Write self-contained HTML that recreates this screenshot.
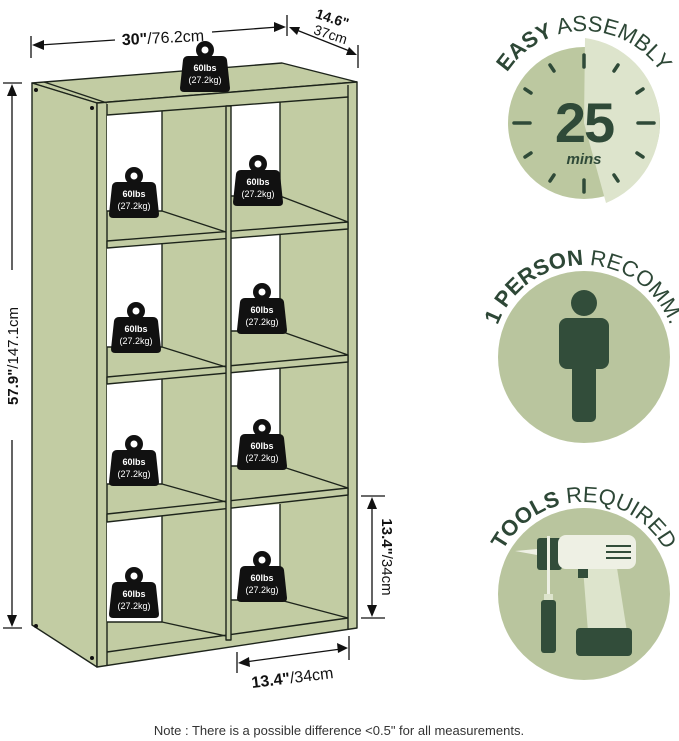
<!DOCTYPE html>
<html><head><meta charset="utf-8"><style>
html,body{margin:0;padding:0;background:#fff;}
svg{display:block;font-family:"Liberation Sans",sans-serif;}
</style></head><body>
<svg width="679" height="741" viewBox="0 0 679 741" xmlns="http://www.w3.org/2000/svg">
<defs>
<g id="wt">
 <circle cx="0" cy="-20" r="9" fill="#111"/>
 <circle cx="0" cy="-20" r="3.5" fill="#fff"/>
 <path d="M-17,-14 L17,-14 Q21,-14 22,-10 L25,18 Q25,22 21,22 L-21,22 Q-25,22 -25,18 L-22,-10 Q-21,-14 -17,-14 Z" fill="#111"/>
 <text x="0" y="1" font-size="9" font-weight="bold" fill="#fff" text-anchor="middle">60lbs</text>
 <text x="0" y="13" font-size="9" fill="#fff" text-anchor="middle">(27.2kg)</text>
</g>
</defs>
<g stroke="#1d241b" stroke-width="1.4" stroke-linejoin="round">
 <polygon points="32,83 282,63 357,82 97,103" fill="#c2cca3"/>
 <polygon points="32,83 97,103 97,667 32,625" fill="#c2cca3"/>
 <polygon points="97,103 357,82 357,628 97,667" fill="#c2cca3"/>
 <line x1="107" y1="104" x2="107" y2="665" />
 <line x1="348" y1="85" x2="348" y2="630" />
 <g fill="#fff" stroke="none">
  <polygon points="107,115 162,111 162,211 107,211"/>
  <polygon points="231,106 280,102 280,196 231,196"/>
  <polygon points="107,248 162,243 162,347 107,347"/>
  <polygon points="231,238 280,234 280,331 231,331"/>
  <polygon points="107,384 162,379 162,484 107,484"/>
  <polygon points="231,373 280,368 280,466 231,466"/>
  <polygon points="107,522 162,516 162,622 107,622"/>
  <polygon points="231,508 280,504 280,600 231,600"/>
 </g>
 <polygon points="107,115 348,97" fill="none"/>
 <g fill="#c2cca3">
  <polygon points="107,241 348,222 348,229 107,248"/>
  <polygon points="107,377 348,355 348,362 107,384"/>
  <polygon points="107,514 348,488 348,495 107,522"/>
 </g>
 <line x1="107" y1="652" x2="348" y2="618"/>
 <polygon points="226,106 231,106 231,640 226,640" fill="#c2cca3"/>
 <g fill="none">
  <line x1="162" y1="111" x2="162" y2="211"/><line x1="107" y1="211" x2="162" y2="211"/><line x1="162" y1="211" x2="226" y2="232"/>
  <line x1="280" y1="102" x2="280" y2="196"/><line x1="231" y1="196" x2="280" y2="196"/><line x1="280" y1="196" x2="348" y2="222"/>
  <line x1="162" y1="243" x2="162" y2="347"/><line x1="107" y1="347" x2="162" y2="347"/><line x1="162" y1="347" x2="226" y2="367"/>
  <line x1="280" y1="234" x2="280" y2="331"/><line x1="231" y1="331" x2="280" y2="331"/><line x1="280" y1="331" x2="348" y2="355"/>
  <line x1="162" y1="379" x2="162" y2="484"/><line x1="107" y1="484" x2="162" y2="484"/><line x1="162" y1="484" x2="226" y2="502"/>
  <line x1="280" y1="368" x2="280" y2="466"/><line x1="231" y1="466" x2="280" y2="466"/><line x1="280" y1="466" x2="348" y2="488"/>
  <line x1="162" y1="516" x2="162" y2="622"/><line x1="107" y1="622" x2="162" y2="622"/><line x1="162" y1="622" x2="226" y2="636"/>
  <line x1="280" y1="504" x2="280" y2="600"/><line x1="231" y1="600" x2="280" y2="600"/><line x1="280" y1="600" x2="348" y2="618"/>
 </g>
 <line x1="44" y1="82" x2="107" y2="103" fill="none"/>
</g>
<circle cx="36" cy="90" r="2" fill="#111"/><circle cx="92" cy="108" r="2" fill="#111"/>
<circle cx="36" cy="626" r="2" fill="#111"/><circle cx="92" cy="658" r="2" fill="#111"/>
<use href="#wt" x="205" y="70"/>
<use href="#wt" x="134" y="196"/>
<use href="#wt" x="258" y="184"/>
<use href="#wt" x="136" y="331"/>
<use href="#wt" x="262" y="312"/>
<use href="#wt" x="134" y="464"/>
<use href="#wt" x="262" y="448"/>
<use href="#wt" x="134" y="596"/>
<use href="#wt" x="262" y="580"/>
<g stroke="#111" stroke-width="1.3" fill="#111">
 <line x1="31" y1="36" x2="31" y2="58"/>
 <line x1="287" y1="15" x2="287" y2="36"/>
 <line x1="40" y1="45" x2="115" y2="40"/><line x1="212" y1="32" x2="278" y2="27"/>
 <polygon points="32,45 44,40 44,50" stroke="none"/>
 <polygon points="286,27 274,22 274,32" stroke="none"/>
 <line x1="358" y1="45" x2="358" y2="68"/>
 <line x1="294" y1="29" x2="352" y2="52"/>
 <polygon points="289,27 300,27 297,35" stroke="none"/>
 <polygon points="357,55 346,55 349,47" stroke="none"/>
 <line x1="3" y1="83" x2="22" y2="83"/><line x1="3" y1="628" x2="22" y2="628"/>
 <line x1="12" y1="90" x2="12" y2="270"/><line x1="12" y1="440" x2="12" y2="620"/>
 <polygon points="12,84 7,96 17,96" stroke="none"/>
 <polygon points="12,627 7,615 17,615" stroke="none"/>
 <line x1="361" y1="496" x2="385" y2="496"/><line x1="361" y1="618" x2="385" y2="618"/>
 <line x1="372" y1="505" x2="372" y2="610"/>
 <polygon points="372,497 367,509 377,509" stroke="none"/>
 <polygon points="372,617 367,605 377,605" stroke="none"/>
 <line x1="237" y1="652" x2="237" y2="673"/><line x1="349" y1="636" x2="349" y2="660"/>
 <line x1="245" y1="662" x2="341" y2="649"/>
 <polygon points="238,663 249,657 250,667" stroke="none"/>
 <polygon points="348,648 337,643 338,653" stroke="none"/>
</g>
<g fill="#111">
 <text x="163" y="43" font-size="16" text-anchor="middle" transform="rotate(-3 163 38)"><tspan font-weight="bold">30"</tspan>/76.2cm</text>
 <text x="316" y="18" font-size="14" font-weight="bold" transform="rotate(18 316 14)">14.6"</text>
 <text x="314" y="34" font-size="14" transform="rotate(18 314 30)">37cm</text>
 <text x="0" y="0" font-size="15" text-anchor="middle" transform="translate(18 356) rotate(-90)"><tspan font-weight="bold">57.9"</tspan>/147.1cm</text>
 <text x="0" y="0" font-size="15" text-anchor="middle" transform="translate(382 557) rotate(90)"><tspan font-weight="bold">13.4"</tspan>/34cm</text>
 <text x="0" y="0" font-size="16" text-anchor="middle" transform="translate(293 683) rotate(-7)"><tspan font-weight="bold">13.4"</tspan>/34cm</text>
</g>
<text x="339" y="735" font-size="13" fill="#333" text-anchor="middle">Note : There is a possible difference &lt;0.5" for all measurements.</text>

<defs>
 <path id="arc1" d="M 492,123 A 92,92 0 0 1 676,123"/>
 <path id="arc2" d="M 492,357 A 92,92 0 0 1 676,357"/>
 <path id="arc3" d="M 492,594 A 92,92 0 0 1 676,594"/>
</defs>
<circle cx="584" cy="123" r="76" fill="#bcc8a0"/>
<path d="M584,123 L585,38 A 86,86 0 0 1 606,203 Z" fill="#dde4cc"/>
<g stroke="#2f4a38" stroke-width="3.5" stroke-linecap="round">
 <line x1="584" y1="55" x2="584" y2="67"/><line x1="584" y1="180" x2="584" y2="192"/>
 <line x1="514" y1="123" x2="530" y2="123"/><line x1="638" y1="123" x2="654" y2="123"/>
 <line x1="550" y1="65" x2="554" y2="71"/><line x1="618" y1="65" x2="614" y2="71"/>
 <line x1="525" y1="89" x2="531" y2="93"/><line x1="643" y1="89" x2="637" y2="93"/>
 <line x1="525" y1="157" x2="531" y2="153"/><line x1="643" y1="157" x2="637" y2="153"/>
 <line x1="550" y1="181" x2="554" y2="175"/><line x1="618" y1="181" x2="614" y2="175"/>
</g>
<text x="584" y="142" font-size="56" font-weight="bold" fill="#2f4a38" text-anchor="middle" letter-spacing="-2">25</text>
<text x="584" y="164" font-size="15" font-weight="bold" font-style="italic" fill="#2f4a38" text-anchor="middle">mins</text>
<text font-size="22" fill="#2d4736"><textPath href="#arc1" startOffset="50%" text-anchor="middle"><tspan font-weight="bold">EASY</tspan> ASSEMBLY</textPath></text>

<circle cx="584" cy="357" r="86" fill="#b9c59e"/>
<circle cx="584" cy="303" r="13" fill="#324d3a"/>
<rect x="559" y="318" width="50" height="51" rx="8" fill="#324d3a"/>
<rect x="572" y="360" width="24" height="62" rx="5" fill="#324d3a"/>
<text font-size="22" fill="#2d4736"><textPath href="#arc2" startOffset="50%" text-anchor="middle"><tspan font-weight="bold">1 PERSON</tspan> RECOMM.</textPath></text>

<circle cx="584" cy="594" r="86" fill="#b9c59e"/>
<polygon points="583,568 617,568 627,632 588,632" fill="#dde4cc"/>
<rect x="576" y="628" width="56" height="28" rx="4" fill="#324d3a"/>
<rect x="578" y="566" width="10" height="12" fill="#324d3a"/>
<polygon points="515,551 537,549 537,555" fill="#eef0e4"/>
<rect x="537" y="538" width="25" height="32" rx="3" fill="#324d3a"/>
<rect x="558" y="535" width="78" height="34" rx="8" fill="#eef0e4"/>
<g stroke="#324d3a" stroke-width="2"><line x1="606" y1="546" x2="631" y2="546"/><line x1="606" y1="552" x2="631" y2="552"/><line x1="606" y1="558" x2="631" y2="558"/></g>
<rect x="547" y="536" width="3" height="60" fill="#eef0e4"/>
<rect x="544" y="594" width="9" height="8" fill="#dde4cc"/>
<rect x="541" y="600" width="15" height="53" rx="3" fill="#324d3a"/>
<text font-size="22" fill="#2d4736"><textPath href="#arc3" startOffset="50%" text-anchor="middle"><tspan font-weight="bold">TOOLS</tspan> REQUIRED</textPath></text>
</svg>
</body></html>
